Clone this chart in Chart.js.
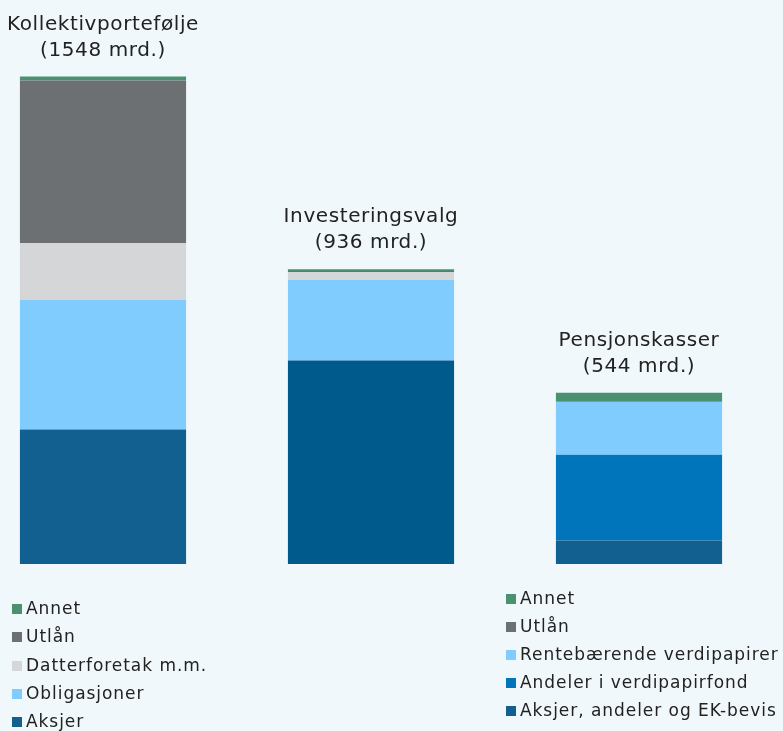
<!DOCTYPE html>
<html lang="no">
<head>
<meta charset="utf-8">
<title>Pensjonsmidler fordelt på aktiva</title>
<script src="https://cdn.jsdelivr.net/npm/chart.js@4"></script>
<style>
    html, body { margin: 0; padding: 0; background: #f1f8fb; }
    #wrap { position: relative; width: 783px; height: 731px; overflow: hidden; }
    #chart { position: absolute; left: 0; top: 0; }
    .legend { position: absolute; font-family: "DejaVu Sans", sans-serif; font-size: 17px; letter-spacing: 0.95px; color: #222; }
    .legend .item { position: absolute; left: 0; white-space: nowrap; line-height: 20px; }
    .legend .box { display: inline-block; width: 10px; height: 10px; margin-right: 4px; vertical-align: 0px; }
</style>
</head>
<body>
<div id="wrap">
    <canvas id="chart" width="783" height="731"></canvas>
    <div class="legend" id="legend_left" style="left:12px; top:598px;"></div>
    <div class="legend" id="legend_right" style="left:506px; top:588px;"></div>
</div>
<script>
// bars and their totals (mrd. kr)
var categories = ['Kollektivportefølje', 'Investeringsvalg', 'Pensjonskasser'];
var totals = [1548, 936, 544];

// stack levels, from the bottom up
var level1 = [427, 646, 75];   // Aksjer / Aksjer, andeler og EK-bevis
var level2 = [411, 256, 272];  // Obligasjoner / Andeler i verdipapirfond
var level3 = [180, 25, 167];   // Datterforetak m.m. / Rentebærende verdipapirer
var utlan = [517, 3, 2];
var annet = [13, 6, 28];

// legend labels
var legendLeft = ['Annet', 'Utlån', 'Datterforetak m.m.', 'Obligasjoner', 'Aksjer'];
var legendRight = ['Annet', 'Utlån', 'Rentebærende verdipapirer', 'Andeler i verdipapirfond', 'Aksjer, andeler og EK-bevis'];

var GREEN = '#4a9170';
var GRAY = '#6d7073';
var LIGHTGRAY = '#d5d6d8';
var LIGHTBLUE = '#80ccff';
var DARKBLUE = '#11608f';
var DARKBLUE2 = '#015a8c';
var MIDBLUE = '#0075bc';

var legendLeftColors = [GREEN, GRAY, LIGHTGRAY, LIGHTBLUE, DARKBLUE];
var legendRightColors = [GREEN, GRAY, LIGHTBLUE, MIDBLUE, DARKBLUE];

function makeLegend(id, labels, colors, step) {
    var el = document.getElementById(id);
    labels.forEach(function(label, i) {
        var item = document.createElement('div');
        item.className = 'item';
        item.style.top = (i * step) + 'px';
        item.innerHTML = '<span class="box" style="background:' + colors[i] + '"></span>' + label;
        el.appendChild(item);
    });
}
makeLegend('legend_left', legendLeft, legendLeftColors, 28.3);
makeLegend('legend_right', legendRight, legendRightColors, 28);

// two-line title above each bar
var barTitles = {
    id: 'barTitles',
    afterDatasetsDraw: function(chart) {
        var ctx = chart.ctx;
        var meta = chart.getDatasetMeta(chart.data.datasets.length - 1);
        ctx.save();
        ctx.fillStyle = '#222';
        ctx.font = '20px "DejaVu Sans"';
        ctx.letterSpacing = '0.6px';
        ctx.textAlign = 'center';
        ctx.textBaseline = 'middle';
        meta.data.forEach(function(bar, i) {
            ctx.fillText(categories[i], bar.x, bar.y - 52);
            ctx.fillText('(' + totals[i] + ' mrd.)', bar.x, bar.y - 26);
        });
        ctx.restore();
    }
};

var common = { barPercentage: 1, categoryPercentage: 0.62, borderWidth: 0, clip: false };

var ctx = document.getElementById('chart').getContext('2d');
var myChart = new Chart(ctx, {
    type: 'bar',
    data: {
        labels: categories,
        datasets: [
            Object.assign({ label: 'level1', data: level1, backgroundColor: [DARKBLUE, DARKBLUE2, DARKBLUE] }, common),
            Object.assign({ label: 'level2', data: level2, backgroundColor: [LIGHTBLUE, LIGHTBLUE, MIDBLUE] }, common),
            Object.assign({ label: 'level3', data: level3, backgroundColor: [LIGHTGRAY, LIGHTGRAY, LIGHTBLUE] }, common),
            Object.assign({ label: 'Utlån', data: utlan, backgroundColor: GRAY }, common),
            Object.assign({ label: 'Annet', data: annet, backgroundColor: GREEN }, common)
        ]
    },
    options: {
        responsive: false,
        animation: false,
        devicePixelRatio: 1,
        layout: { padding: { left: 103, right: 144, top: 60, bottom: 167 } },
        scales: {
            x: { stacked: true, display: false, offset: false },
            y: { stacked: true, display: false, min: 0, max: 1600 }
        },
        plugins: {
            legend: { display: false },
            tooltip: { enabled: false }
        }
    },
    plugins: [barTitles]
});
</script>
</body>
</html>
